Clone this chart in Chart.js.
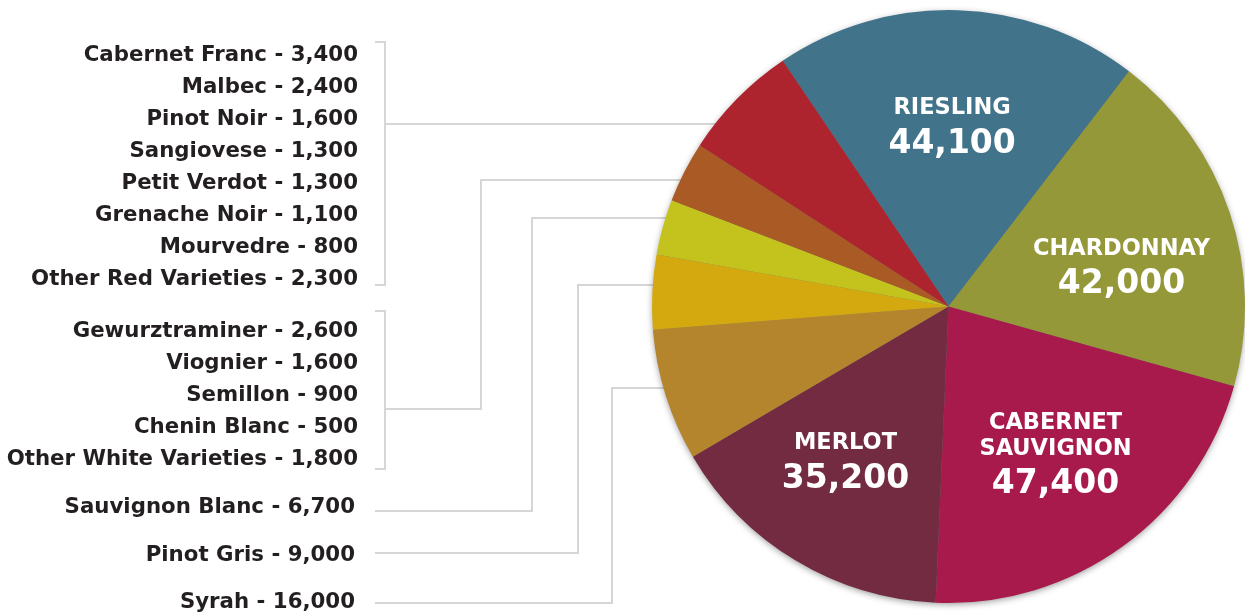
<!DOCTYPE html>
<html>
<head>
<meta charset="utf-8">
<script src="https://cdn.jsdelivr.net/npm/chart.js@4"></script>
<style>
html,body{margin:0;padding:0;background:#fff;}
#wrap{width:1245px;height:614px;position:relative;}
</style>
</head>
<body>
<div id="wrap"><canvas id="c" width="1245" height="614"></canvas></div>
<script>
// ---- data ----
const sliceNames  = ['Riesling', 'Chardonnay', 'Cabernet Sauvignon', 'Merlot', 'Syrah', 'Pinot Gris', 'Sauvignon Blanc', 'White Varieties', 'Red Varieties'];
const sliceValues = [44100, 42000, 47400, 35200, 16000, 9000, 6700, 7400, 14200];
const sliceColors = ['#41738b', '#949838', '#a91a4c', '#722b40', '#b5852e', '#d3a90f', '#c4c31d', '#aa5a25', '#ae242e'];

const redNames   = ['Cabernet Franc', 'Malbec', 'Pinot Noir', 'Sangiovese', 'Petit Verdot', 'Grenache Noir', 'Mourvedre', 'Other Red Varieties'];
const redValues  = [3400, 2400, 1600, 1300, 1300, 1100, 800, 2300];
const whiteNames  = ['Gewurztraminer', 'Viognier', 'Semillon', 'Chenin Blanc', 'Other White Varieties'];
const whiteValues = [2600, 1600, 900, 500, 1800];
const singleIdx = [6, 5, 4]; // Sauvignon Blanc, Pinot Gris, Syrah listed individually

const FONT = '"DejaVu Sans", "Liberation Sans", sans-serif';
const TEXT = '#231f20';
const LINE = '#d6d6d6';
const fmt = v => v.toLocaleString('en-US');

const overlay = {
  id: 'overlay',
  beforeDatasetsDraw(chart) {
    const ctx = chart.ctx;
    const a0 = chart.getDatasetMeta(0).data[0];
    const cx = a0.x, cy = a0.y, R = a0.outerRadius;
    ctx.save();
    ctx.strokeStyle = LINE;
    ctx.lineWidth = 2;
    const poly = pts => {
      ctx.beginPath();
      ctx.moveTo(pts[0][0], pts[0][1]);
      for (let i = 1; i < pts.length; i++) ctx.lineTo(pts[i][0], pts[i][1]);
      ctx.stroke();
    };
    // red varieties bracket
    poly([[375, 42], [385, 42], [385, 285], [375, 285]]);
    poly([[385, 124], [cx, 124]]);
    // white varieties bracket
    poly([[375, 311], [385, 311], [385, 469], [375, 469]]);
    poly([[385, 409], [481, 409], [481, 180], [cx, 180]]);
    // singles
    poly([[375, 511], [532, 511], [532, 218], [cx, 218]]);
    poly([[375, 553], [578, 553], [578, 285], [cx, 285]]);
    poly([[375, 603], [612, 603], [612, 388], [cx, 388]]);
    // soft shadow under the pie
    ctx.shadowColor = 'rgba(0,0,0,0.45)';
    ctx.shadowBlur = 7;
    ctx.shadowOffsetY = 2;
    ctx.fillStyle = '#777';
    ctx.beginPath();
    ctx.arc(cx, cy, R - 1, 0, Math.PI * 2);
    ctx.fill();
    ctx.restore();
  },
  afterDatasetsDraw(chart) {
    const ctx = chart.ctx;
    const meta = chart.getDatasetMeta(0);
    const nudge = [[-2, -1], [0, 15], [0, -3], [-9, -4]];
    ctx.save();
    // slice labels for the four large slices
    ctx.fillStyle = '#fff';
    ctx.textAlign = 'center';
    ctx.textBaseline = 'alphabetic';
    meta.data.forEach((arc, i) => {
      if (i > 3) return;
      const mid = (arc.startAngle + arc.endAngle) / 2;
      const px = arc.x + Math.cos(mid) * arc.outerRadius * 0.615 + nudge[i][0];
      const py = arc.y + Math.sin(mid) * arc.outerRadius * 0.615 + nudge[i][1];
      const lines = sliceNames[i].toUpperCase().split(' ');
      const valueY = py + 17.5 + (lines.length - 1) * 12.75;
      ctx.font = `bold 22.5px ${FONT}`;
      lines.forEach((t, k) => {
        const yc = valueY - 35 - (lines.length - 1 - k) * 25.5;
        ctx.fillText(t, px, yc + 0.365 * 22.5);
      });
      ctx.font = `bold 33px ${FONT}`;
      ctx.fillText(fmt(sliceValues[i]), px, valueY + 0.365 * 33);
    });
    // left-hand legend
    ctx.fillStyle = TEXT;
    ctx.textAlign = 'right';
    ctx.font = `bold 21.3px ${FONT}`;
    redNames.forEach((n, k) => ctx.fillText(`${n} - ${fmt(redValues[k])}`, 358, 60.5 + 32 * k));
    whiteNames.forEach((n, k) => ctx.fillText(`${n} - ${fmt(whiteValues[k])}`, 358, 337 + 32.05 * k));
    const singleY = [512.5, 560.5, 608];
    singleIdx.forEach((idx, k) => ctx.fillText(`${sliceNames[idx]} - ${fmt(sliceValues[idx])}`, 355, singleY[k]));
    ctx.restore();
  }
};

new Chart(document.getElementById('c'), {
  type: 'pie',
  data: {
    labels: sliceNames,
    datasets: [{
      data: sliceValues,
      backgroundColor: sliceColors,
      borderWidth: 0
    }]
  },
  options: {
    responsive: false,
    animation: false,
    rotation: -34,
    layout: { padding: { left: 652, right: 0, top: 10, bottom: 11 } },
    plugins: {
      legend: { display: false },
      tooltip: { enabled: false }
    }
  },
  plugins: [overlay]
});
</script>
</body>
</html>
